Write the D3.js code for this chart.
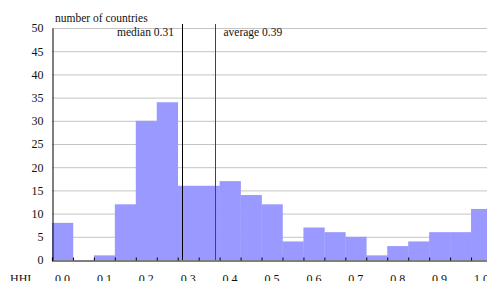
<!DOCTYPE html>
<html>
<head>
<meta charset="utf-8">
<script src="https://cdn.jsdelivr.net/npm/d3@7/dist/d3.min.js"></script>
<style>
  body { margin: 0; background: #fff; }
  svg text { font-family: "Liberation Serif", "Times New Roman", serif !important; fill: #111; }
</style>
</head>
<body>
<svg id="chart" width="487" height="281"></svg>
<script>
// bins of width 0.05, labelled by lower edge
const binStarts = [0.00, 0.05, 0.10, 0.15, 0.20, 0.25, 0.30, 0.35, 0.40, 0.45,
                   0.50, 0.55, 0.60, 0.65, 0.70, 0.75, 0.80, 0.85, 0.90, 0.95, 1.00];
const counts = [8, 0, 1, 12, 30, 34, 16, 16, 17, 14,
                12, 4, 7, 6, 5, 1, 3, 4, 6, 6, 11];
const yTicks = [0, 5, 10, 15, 20, 25, 30, 35, 40, 45, 50];
const xLabels = ["0.0", "0.1", "0.2", "0.3", "0.4", "0.5", "0.6", "0.7", "0.8", "0.9", "1.0"];
const medianVal = 0.31;
const averageVal = 0.39;

const serif = "'Liberation Serif', 'Times New Roman', serif";

let svg = d3.select("#chart"),
  margin = {left: 52, top: 28, bottom: 21},
  height = 281 - margin.top - margin.bottom;

let binW = 0.05;
// value scale: 0 .. 1.05 (21 bins), right edge runs past the picture
let x = d3.scaleLinear().domain([0, 1.05]).range([margin.left, 492]);
let y = d3.scaleLinear().domain([0, 50]).range([margin.top + height, margin.top]);

// grid lines
svg.append("g").selectAll("line")
  .data(yTicks.filter(d => d > 0))
  .enter().append("line")
  .attr("x1", margin.left).attr("x2", 487)
  .attr("y1", d => y(d) + 0.5).attr("y2", d => y(d) + 0.5)
  .attr("stroke", "#c4c4c4").attr("stroke-width", 1);

// bars
svg.append("g").selectAll("rect")
  .data(binStarts)
  .enter().append("rect")
  .attr("x", d => x(d))
  .attr("width", d => x(d + binW) - x(d) + 0.3)
  .attr("y", (d, i) => y(counts[i]))
  .attr("height", (d, i) => y(0) - y(counts[i]))
  .attr("fill", "#9999ff");

// y axis
let yAxis = d3.axisLeft(y).tickValues(yTicks).tickSize(0).tickPadding(9);
let gy = svg.append("g").attr("transform", "translate(" + (margin.left + 0.5) + ",0)").call(yAxis);
gy.attr("font-family", serif).attr("font-size", 12);
gy.select(".domain").attr("stroke", "#000");
gy.selectAll("text").attr("fill", "#111");

// x axis: inward ticks at bin boundaries
let xAxis = d3.axisTop(x).tickValues(d3.range(0, 22).map(k => k * binW)).tickSize(3).tickFormat("");
let gx = svg.append("g").attr("transform", "translate(0," + (y(0) + 0.5) + ")").call(xAxis);
gx.select(".domain").attr("stroke", "#000").attr("stroke-width", 1.2);
gx.selectAll(".tick line").attr("stroke", "#000");

// category labels centred on every other bin
svg.append("g").attr("font-family", serif).attr("font-size", 12)
  .selectAll("text")
  .data(xLabels)
  .enter().append("text")
  .attr("x", (d, i) => x(i * 0.1 + binW / 2))
  .attr("y", 283)
  .attr("text-anchor", "middle")
  .text(d => d);

svg.append("text").attr("x", 10).attr("y", 283)
  .attr("font-family", serif).attr("font-size", 12).text("HHI");
svg.append("text").attr("x", 55).attr("y", 22)
  .attr("font-family", serif).attr("font-size", 11.5).text("number of countries");

// median and average lines
svg.append("line")
  .attr("x1", Math.round(x(medianVal)) + 0.5).attr("x2", Math.round(x(medianVal)) + 0.5)
  .attr("y1", 24).attr("y2", y(0))
  .attr("stroke", "#000");
svg.append("line")
  .attr("x1", Math.round(x(averageVal)) + 0.5).attr("x2", Math.round(x(averageVal)) + 0.5)
  .attr("y1", 24).attr("y2", y(0))
  .attr("stroke", "#444");

svg.append("text").attr("x", x(medianVal) - 8).attr("y", 36)
  .attr("text-anchor", "end").attr("font-family", serif).attr("font-size", 11.5).text("median 0.31");
svg.append("text").attr("x", x(averageVal) + 8).attr("y", 36)
  .attr("font-family", serif).attr("font-size", 11.5).text("average 0.39");
</script>
</body>
</html>
